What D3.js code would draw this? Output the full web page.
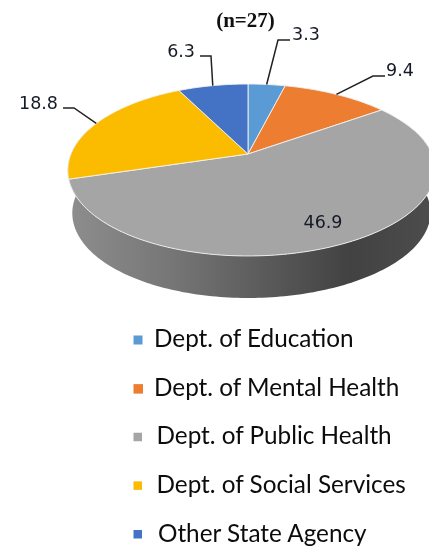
<!DOCTYPE html>
<html><head><meta charset="utf-8">
<script src="https://cdn.jsdelivr.net/npm/d3@7/dist/d3.min.js"></script>
<style>html,body{margin:0;padding:0;background:#fff;overflow:hidden}svg{display:block;filter:blur(0.35px)}</style>
</head><body><div id="c"></div>
<script>
const categories = ["Dept. of Education","Dept. of Mental Health","Dept. of Public Health","Dept. of Social Services","Other State Agency"];
const values = [3.3, 9.4, 46.9, 18.8, 6.3];
const colors = ["#5b9bd5","#ed7d31","#a5a5a5","#fbbc00","#4472c4"];
const title = "(n=27)";

const W=429,H=547;
const svg=d3.select("#c").append("svg").attr("width",W).attr("height",H);
const cx=248, cy=154, b=83, k=0.186;
function proj(t){ // t clockwise from top, perspective view of the unit circle
  const u=Math.sin(t), v=-Math.cos(t), w=1/(1-k*v), a=180.5+3.5*u;
  return [cx+a*u*w, cy+b*v*w];
}
const low=p=>[cx+0.975*(p[0]-cx), cy+0.99*(p[1]-cy)+43];
const line=d3.line();
const TAU=Math.PI*2;
const samples=(t0,t1)=>{const n=Math.max(2,Math.ceil(Math.abs(t1-t0)/0.02));return d3.range(n+1).map(i=>t0+(t1-t0)*i/n)};

const defs=svg.append("defs");
const g=defs.append("linearGradient").attr("id","wall").attr("gradientUnits","userSpaceOnUse")
  .attr("x1",67).attr("x2",429).attr("y1",0).attr("y2",0);
[[0,"#8e8e8e"],[0.3,"#757575"],[0.55,"#5a5a5a"],[0.78,"#424242"],[1,"#4c4c4c"]].forEach(s=>g.append("stop").attr("offset",s[0]).attr("stop-color",s[1]));

const front=samples(TAU*0.2,TAU*0.8);
svg.append("path").attr("fill","url(#wall)")
  .attr("d",line(front.map(t=>proj(t)).concat(front.slice().reverse().map(t=>low(proj(t)))))+"Z");

const pie=d3.pie().sort(null).value(d=>d);
const arcs=pie(values);
svg.append("g").selectAll("path").data(arcs).join("path")
  .attr("fill",(d,i)=>colors[i])
  .attr("stroke","#f2f2f2").attr("stroke-width",0.9).attr("stroke-linejoin","round")
  .attr("d",d=>line([[cx,cy]].concat(samples(d.startAngle,d.endAngle).map(t=>proj(t))))+"Z");

const labelLayout=[
 {elbow:[278,40],end:[290,40],tx:292,ty:34,anchor:"start"},
 {elbow:[373,76],end:[385,76],tx:386,ty:70,anchor:"start"},
 {tx:323,ty:222,anchor:"middle"},
 {elbow:[74,108],end:[63,108],tx:58,ty:103,anchor:"end"},
 {elbow:[211,56],end:[200,56],tx:195,ty:51,anchor:"end"}
];
arcs.forEach((d,i)=>{
  const L=labelLayout[i];
  if(L.elbow){
    const t=(d.startAngle+d.endAngle)/2;
    svg.append("path").attr("fill","none").attr("stroke","#222").attr("stroke-width",1.5)
      .attr("d",line([proj(t),L.elbow,L.end]));
  }
  svg.append("text").attr("x",L.tx).attr("y",L.ty).attr("text-anchor",L.anchor).attr("dominant-baseline","central")
    .attr("font-family","'DejaVu Sans'").attr("font-size",17.5).attr("fill","#161a26").text(values[i]);
});

svg.append("text").attr("x",245.5).attr("y",27).attr("text-anchor","middle")
  .attr("font-family","'Liberation Serif'").attr("font-weight","bold").attr("font-size",21).attr("fill","#111").text(title);

const y=d3.scalePoint().domain(categories).range([340,534.5]);
const textX=[154,154,156.5,156.5,158], markerSize=[9,9.5,8.5,8.5,8.5];
const leg=svg.append("g").selectAll("g").data(categories).join("g");
leg.append("rect").attr("x",133.5).attr("y",d=>y(d)-4.5).attr("width",(d,i)=>markerSize[i]).attr("height",(d,i)=>markerSize[i])
  .attr("fill",(d,i)=>colors[i]);
leg.append("text").attr("x",(d,i)=>textX[i]).attr("y",d=>y(d)+7)
  .attr("font-family","Lato").attr("font-size",24.3).attr("fill","#0c0c0c").text(d=>d);
</script></body></html>
